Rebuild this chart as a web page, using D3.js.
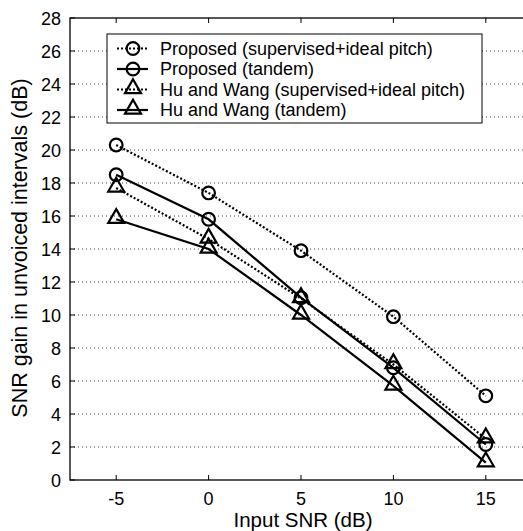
<!DOCTYPE html>
<html>
<head>
<meta charset="utf-8">
<script src="https://cdn.jsdelivr.net/npm/d3@7"></script>
<style>
  body { margin: 0; background: #fff; }
  svg { display: block; font-family: "Liberation Sans", Arial, sans-serif; }
  .grid line { stroke: #444; stroke-width: 1; stroke-dasharray: 1,3; }
  .tick-label { font-size: 18px; fill: #000; }
</style>
</head>
<body>
<svg id="chart" width="523" height="531"></svg>
<script>
  var inputSnr = [-5, 0, 5, 10, 15];
  var xTicks = [-5, 0, 5, 10, 15];
  var yTicks = [0, 2, 4, 6, 8, 10, 12, 14, 16, 18, 20, 22, 24, 26, 28];

  var proposedIdeal = [20.3, 17.4, 13.9, 9.9, 5.1];
  var proposedTandem = [18.5, 15.8, 11.05, 6.8, 2.15];
  var huWangIdeal = [17.7, 14.6, 11.0, 7.0, 2.5];
  var huWangTandem = [15.8, 14.0, 10.0, 5.7, 1.05];

  var seriesNames = [
    'Proposed (supervised+ideal pitch)',
    'Proposed (tandem)',
    'Hu and Wang (supervised+ideal pitch)',
    'Hu and Wang (tandem)'
  ];

(function() {
  var series = [
    { name: seriesNames[0], values: proposedIdeal, marker: 'circle', dotted: true },
    { name: seriesNames[1], values: proposedTandem, marker: 'circle', dotted: false },
    { name: seriesNames[2], values: huWangIdeal, marker: 'triangle', dotted: true },
    { name: seriesNames[3], values: huWangTandem, marker: 'triangle', dotted: false }
  ];

  var svg = d3.select('#chart');
  var left = 70, right = 532, top = 18, bottom = 480;

  var x = d3.scaleLinear().domain([-7.5, 17.5]).range([left, right]);
  var y = d3.scaleLinear().domain([0, 28]).range([bottom, top]);

  // dotted horizontal grid
  svg.append('g').attr('class', 'grid')
    .selectAll('line').data(yTicks.filter(function(d) { return d > 0 && d < 28; }))
    .enter().append('line')
    .attr('x1', left).attr('x2', right)
    .attr('y1', function(d) { return y(d); }).attr('y2', function(d) { return y(d); });

  // frame
  svg.append('rect')
    .attr('x', left).attr('y', top)
    .attr('width', right - left).attr('height', bottom - top)
    .attr('fill', 'none').attr('stroke', '#000').attr('stroke-width', 1.3);

  // inward ticks
  var ticks = svg.append('g').attr('stroke', '#000').attr('stroke-width', 1);
  ticks.selectAll('.xb').data(xTicks).enter().append('line')
    .attr('x1', function(d) { return x(d); }).attr('x2', function(d) { return x(d); })
    .attr('y1', bottom).attr('y2', bottom - 5);
  ticks.selectAll('.xt').data(xTicks).enter().append('line')
    .attr('x1', function(d) { return x(d); }).attr('x2', function(d) { return x(d); })
    .attr('y1', top).attr('y2', top + 5);
  ticks.selectAll('.yl').data(yTicks).enter().append('line')
    .attr('x1', left).attr('x2', left + 5)
    .attr('y1', function(d) { return y(d); }).attr('y2', function(d) { return y(d); });

  // tick labels
  svg.selectAll('.xl').data(xTicks).enter().append('text')
    .attr('class', 'tick-label')
    .attr('x', function(d) { return x(d); }).attr('y', 505)
    .attr('text-anchor', 'middle')
    .text(String);
  svg.selectAll('.yl2').data(yTicks).enter().append('text')
    .attr('class', 'tick-label')
    .attr('x', 61).attr('y', function(d) { return y(d) + 1; })
    .attr('dy', '0.35em')
    .attr('text-anchor', 'end')
    .text(String);

  // axis titles
  svg.append('text')
    .attr('x', 303).attr('y', 527)
    .attr('text-anchor', 'middle')
    .style('font-size', '20.5px')
    .text('Input SNR (dB)');
  svg.append('text')
    .attr('transform', 'translate(27,248) rotate(-90)')
    .attr('text-anchor', 'middle')
    .style('font-size', '21.5px')
    .text('SNR gain in unvoiced intervals (dB)');

  var circleSym = d3.symbol().type(d3.symbolCircle).size(Math.PI * 40);
  var triSym = d3.symbol().type(d3.symbolTriangle).size(110);

  function drawMarker(g, kind, cx, cy) {
    g.append('path')
      .attr('d', kind === 'circle' ? circleSym() : triSym())
      .attr('transform', 'translate(' + cx + ',' + (kind === 'circle' ? cy : cy - 1) + ')')
      .attr('fill', 'none')
      .attr('stroke', '#000')
      .attr('stroke-width', 2.2);
  }

  var line = d3.line()
    .x(function(d, i) { return x(inputSnr[i]); })
    .y(function(d) { return y(d); });

  series.forEach(function(s) {
    var g = svg.append('g');
    g.append('path')
      .datum(s.values)
      .attr('d', line)
      .attr('fill', 'none')
      .attr('stroke', '#000')
      .attr('stroke-width', 2.2)
      .attr('stroke-dasharray', s.dotted ? '2,2' : null);
    s.values.forEach(function(v, i) {
      drawMarker(g, s.marker, x(inputSnr[i]), y(v));
    });
  });

  // legend
  var lg = svg.append('g').attr('transform', 'translate(107,34)');
  lg.append('rect')
    .attr('width', 375).attr('height', 89)
    .attr('fill', '#fff').attr('stroke', '#000').attr('stroke-width', 1);
  series.forEach(function(s, i) {
    var ly = 14.5 + i * 20.5;
    var row = lg.append('g');
    row.append('line')
      .attr('x1', 10).attr('x2', 41).attr('y1', ly).attr('y2', ly)
      .attr('stroke', '#000').attr('stroke-width', 2.2)
      .attr('stroke-dasharray', s.dotted ? '2,2' : null);
    drawMarker(row, s.marker, 26, ly);
    row.append('text')
      .attr('x', 53).attr('y', ly).attr('dy', '0.35em')
      .style('font-size', '18px')
      .text(s.name);
  });
})();
</script>
</body>
</html>
